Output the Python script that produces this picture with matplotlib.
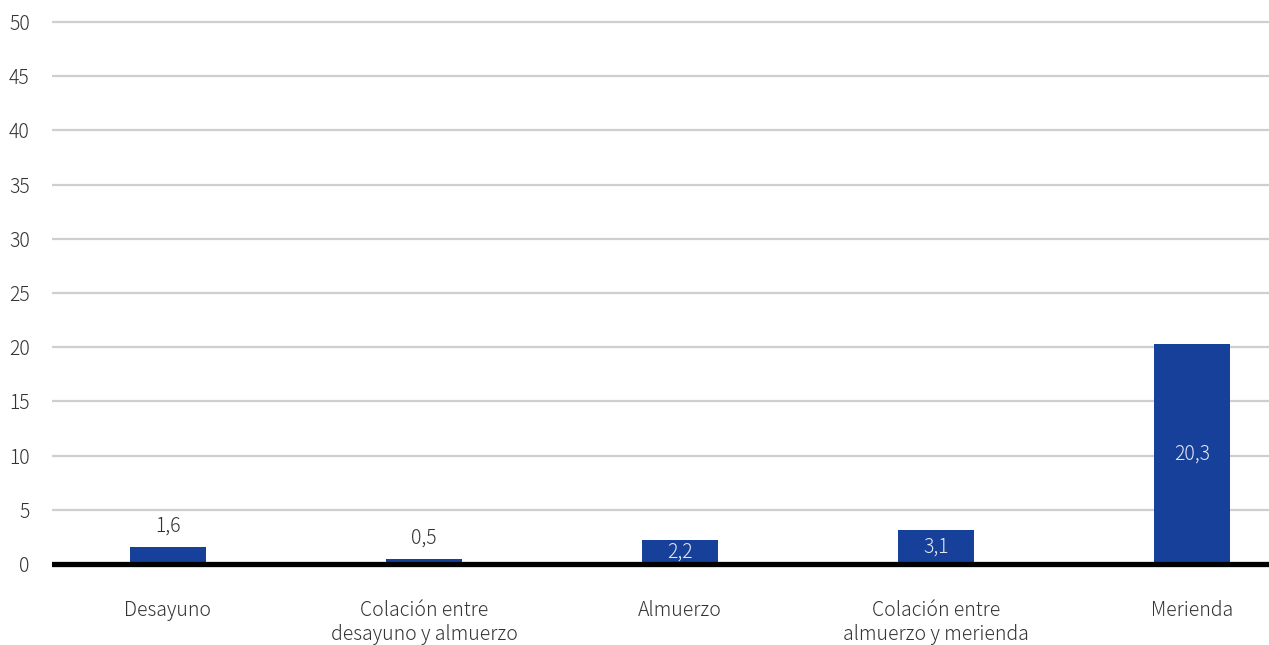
import matplotlib
matplotlib.use("Agg")
import matplotlib.pyplot as plt

categories = ["Desayuno", "Colación entre\ndesayuno y almuerzo", "Almuerzo",
              "Colación entre\nalmuerzo y merienda", "Merienda"]
values = [1.6, 0.5, 2.2, 3.1, 20.3]
value_labels = ["1,6", "0,5", "2,2", "3,1", "20,3"]
y_ticks = [0, 5, 10, 15, 20, 25, 30, 35, 40, 45, 50]

plt.rcParams["font.family"] = ["Noto Sans CJK JP", "DejaVu Sans"]
plt.rcParams["font.weight"] = "light"

W, H = 1269, 645
fig = plt.figure(figsize=(W / 100, H / 100), dpi=100)

# axes placed in pixel terms: value 0 at y=564, value 50 at y=22
px_per_unit = (564 - 22) / 50
ymin, ymax = -1, 51
top_px = 22 - (ymax - 50) * px_per_unit
bot_px = 564 + (0 - ymin) * px_per_unit
left_px, right_px = 52, 1269
ax = fig.add_axes([left_px / W, 1 - bot_px / H, (right_px - left_px) / W, (bot_px - top_px) / H])

x = list(range(len(categories)))
spacing_px = 256
x0_px = 168
ax.set_xlim((left_px - x0_px) / spacing_px, (right_px - x0_px) / spacing_px)
ax.set_ylim(ymin, ymax)

bar_color = "#17409A"
ax.bar(x, values, width=76 / spacing_px, color=bar_color, zorder=3)

for yv in y_ticks[1:]:
    ax.axhline(yv, color="#CFCFCF", lw=1.6, zorder=1)
ax.axhline(0, color="black", lw=3.8, zorder=4)

for xi, v, lab in zip(x, values, value_labels):
    if v >= 2:
        ax.text(xi, v / 2, lab, ha="center", va="center", color="#E3E8F2",
                fontsize=14, fontweight="light", zorder=5)
    else:
        ax.annotate(lab, (xi, v), xytext=(0, 7), textcoords="offset points",
                    ha="center", va="bottom", color="#333333", fontsize=14,
                    fontweight="light", zorder=5)

ax.set_yticks(y_ticks)
ax.set_yticklabels([str(t) for t in y_ticks])
ax.set_xticks(x)
ax.set_xticklabels(categories, linespacing=1.2)
ax.tick_params(axis="y", length=0, pad=16, labelsize=14, labelcolor="#333333")
ax.tick_params(axis="x", length=0, pad=18, labelsize=14, labelcolor="#333333")
for s in ax.spines.values():
    s.set_visible(False)

fig.savefig("out.png", dpi=100)
